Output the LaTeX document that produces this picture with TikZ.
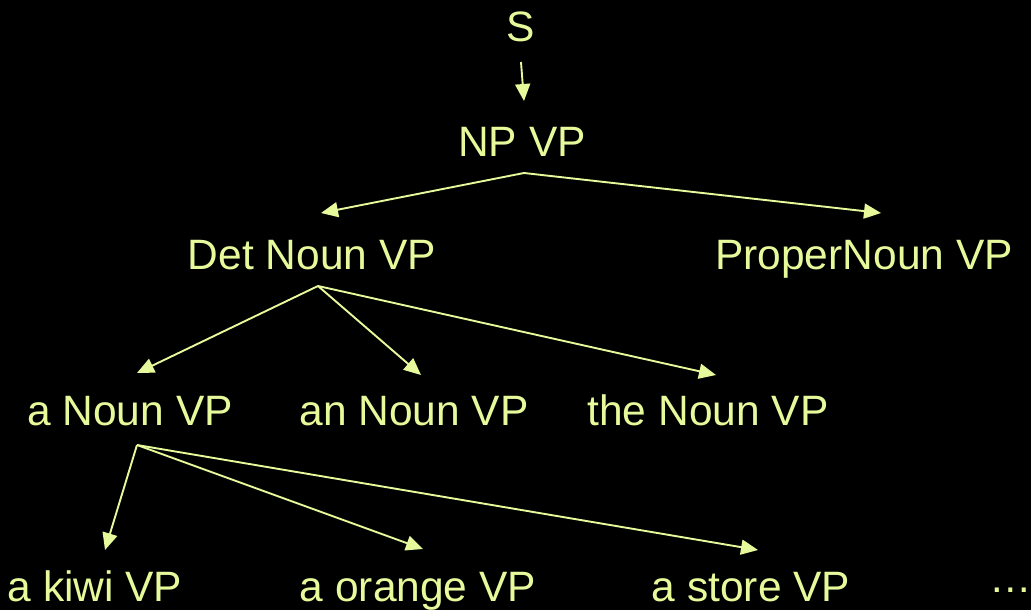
\documentclass[tikz,border=0pt]{standalone}
\usepackage{fontspec}
\setmainfont{Liberation Sans}
\usetikzlibrary{arrows.meta}
\definecolor{ink}{RGB}{230,250,155}
\tikzset{
  lbl/.style={inner sep=0pt, anchor=base, text=ink, font=\fontsize{42.5}{50}\selectfont},
  arr/.style={draw=ink, line width=1.9pt, -{Triangle[length=17pt,width=15pt]}}
}
\begin{document}
\begin{tikzpicture}[x=1pt,y=-1pt]
\fill[black] (0,0) rectangle (1031,610);
\useasboundingbox (0,0) rectangle (1031,610);
% labels
\node[lbl] (s) at (521,42) {S};
\node[lbl] (npvp) at (522,156) {NP VP};
\node[lbl] (det) at (312,269) {Det Noun VP};
\node[lbl] (prop) at (864,269) {ProperNoun VP};
\node[lbl] (a) at (130,425) {a Noun VP};
\node[lbl] (an) at (414,425) {an Noun VP};
\node[lbl] (the) at (708,425) {the Noun VP};
\node[lbl] (kiwi) at (95,601) {a kiwi VP};
\node[lbl] (orange) at (418,601) {a orange VP};
\node[lbl] (store) at (751,601) {a store VP};
\node[lbl, anchor=base west] (more) at (989,592) {…};
% connector ends
\coordinate (s-o) at (521,62);   \coordinate (npvp-i) at (524,101);
\coordinate (npvp-o) at (524,173);
\coordinate (det-i) at (321,213); \coordinate (prop-i) at (881,213);
\coordinate (det-o) at (318,286);
\coordinate (a-i) at (137,373); \coordinate (an-i) at (421,375); \coordinate (the-i) at (716,375);
\coordinate (a-o) at (137,445);
\coordinate (kiwi-i) at (105,550); \coordinate (orange-i) at (423,549); \coordinate (store-i) at (758,550);
% connectors
\draw[arr] (s-o) -- (npvp-i);
\draw[arr] (npvp-o) -- (det-i);
\draw[arr] (npvp-o) -- (prop-i);
\draw[arr] (det-o) -- (a-i);
\draw[arr] (det-o) -- (an-i);
\draw[arr] (det-o) -- (the-i);
\draw[arr] (a-o) -- (kiwi-i);
\draw[arr] (a-o) -- (orange-i);
\draw[arr] (a-o) -- (store-i);
\end{tikzpicture}
\end{document}
